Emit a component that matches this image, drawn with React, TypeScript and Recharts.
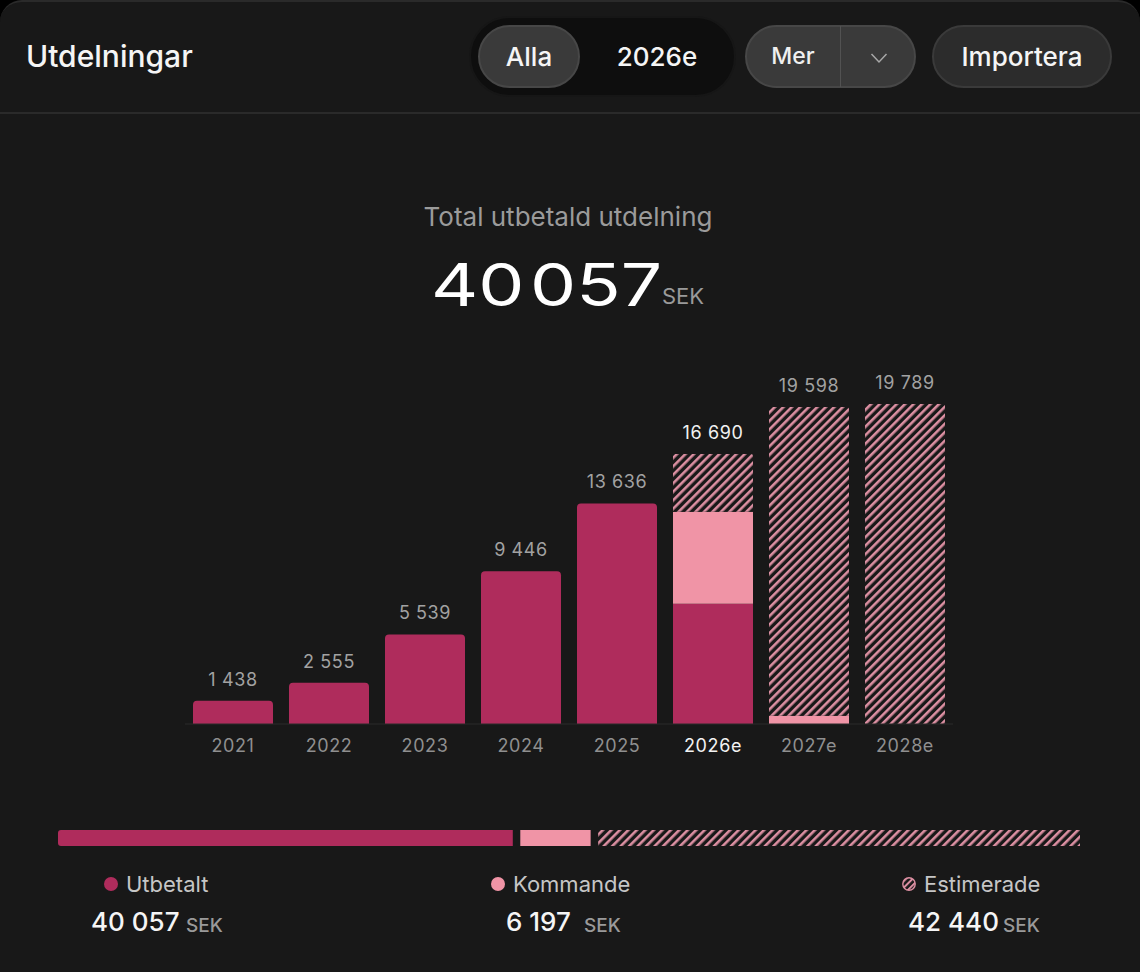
import React from "react";
import { Bar, BarChart, ComposedChart, Line, Rectangle, XAxis, YAxis } from "recharts";

const years = ["2021", "2022", "2023", "2024", "2025", "2026e", "2027e", "2028e"];
const totals = [1438, 2555, 5539, 9446, 13636, 16690, 19598, 19789];
const paid = [1438, 2555, 5539, 9446, 13636, 7443, 0, 0];
const upcoming = [0, 0, 0, 0, 0, 5689, 508, 0];
const estimated = [0, 0, 0, 0, 0, 3558, 19090, 19789];

const summaryLabels = ["Utbetalt", "Kommande", "Estimerade"];
const summaryValues = [40057, 6197, 42440];
const summaryGap = 660;

const DARK = "#AF2C5C";
const PINK = "#F094A6";
const STRIPE = "#DC8FA2";
const BG = "#181818";
const FONT = "Inter, sans-serif";

const fmt = (n: number) => String(n).replace(/\B(?=(\d{3})+$)/g, " ");

const rows = years.map((year, i) => ({
  year,
  total: totals[i],
  paid: paid[i],
  upcoming: upcoming[i],
  estimated: estimated[i],
}));

const summaryRow = [{
  name: "Total",
  paid: summaryValues[0],
  gapA: summaryGap,
  upcoming: summaryValues[1],
  gapB: summaryGap,
  estimated: summaryValues[2],
}];

function Hatch({ id }: { id: string }) {
  return (
    <defs>
      <pattern id={id} patternUnits="userSpaceOnUse" width="6" height="6" patternTransform="rotate(45)">
        <rect width="6" height="6" fill={BG} />
        <rect width="2.6" height="6" fill={STRIPE} />
      </pattern>
    </defs>
  );
}

function Txt({ x, y, size, color, children, weight = 400, anchor = "left", spacing = 0, style = {} }: any) {
  const shift = anchor === "center" ? "translate(-50%, -50%)" : "translateY(-50%)";
  return (
    <div style={{
      position: "absolute", left: x, top: y, transform: shift, fontSize: size, color, fontWeight: weight,
      letterSpacing: spacing, whiteSpace: "pre", lineHeight: 1, fontFamily: FONT, ...style,
    }}>
      {children}
    </div>
  );
}

function Pill({ x, y, w, h, bg, border }: any) {
  return (
    <div style={{
      position: "absolute", left: x, top: y, width: w, height: h, boxSizing: "border-box",
      borderRadius: h / 2, background: bg, border: `2px solid ${border}`,
    }} />
  );
}

function makeShape(key: "paid" | "upcoming" | "estimated") {
  return (props: any) => {
    const i = props.index;
    const onTop =
      key === "estimated" ||
      (key === "upcoming" && estimated[i] === 0) ||
      (key === "paid" && upcoming[i] === 0 && estimated[i] === 0);
    const r = onTop ? (key === "estimated" ? 2 : 4) : 0;
    return <Rectangle x={props.x} y={props.y} width={props.width} height={props.height} fill={props.fill} radius={[r, r, 0, 0]} />;
  };
}

function YearTick({ x, y, payload }: any) {
  const active = payload.value === "2026e";
  return (
    <text x={x} y={y + 20} textAnchor="middle" fontSize={18} letterSpacing={0.6} fontFamily={FONT} fill={active ? "#f2f2f2" : "#8f8f8f"}>
      {payload.value}
    </text>
  );
}

function TotalLabel({ x, y, index }: any) {
  const active = years[index] === "2026e";
  return (
    <text x={x} y={y - 15} textAnchor="middle" fontSize={18} letterSpacing={0.6} fontFamily={FONT} fill={active ? "#f2f2f2" : "#a2a2a2"}>
      {fmt(totals[index])}
    </text>
  );
}

function Summary({ i, dotX, labelX, valueX, unitX }: any) {
  return (
    <>
      <svg style={{ position: "absolute", left: dotX - 8, top: 876 }} width={16} height={16}>
        {i === 2 ? (
          <>
            <defs>
              <pattern id="hatch-dot" patternUnits="userSpaceOnUse" width="4.6" height="4.6" patternTransform="rotate(45)">
                <rect width="4.6" height="4.6" fill={BG} />
                <rect width="2" height="4.6" fill={STRIPE} />
              </pattern>
            </defs>
            <circle cx={8} cy={8} r={6.2} fill="url(#hatch-dot)" stroke={STRIPE} strokeWidth={1.4} />
          </>
        ) : (
          <circle cx={8} cy={8} r={7} fill={i === 0 ? DARK : PINK} />
        )}
      </svg>
      <Txt x={labelX} y={884} size={22} color="#c6c6c6">{summaryLabels[i]}</Txt>
      <Txt x={valueX} y={922} size={26} color="#f5f5f5" weight={500}>{fmt(summaryValues[i])}</Txt>
      <Txt x={unitX} y={925} size={19} color="#9a9a9a" weight={500}>SEK</Txt>
    </>
  );
}

export default function App() {
  return (
    <div style={{ position: "absolute", left: 0, top: 0, width: 1140, height: 972, overflow: "hidden", background: "#000" }}>
      <div style={{
        position: "absolute", left: 0, top: 0, width: 1140, height: 972, background: BG, boxSizing: "border-box",
        borderTop: "2px solid #2a2a2a", borderRadius: "22px 22px 0 0",
      }} />
      <div style={{ position: "absolute", left: 0, top: 112, width: 1140, height: 2, background: "#2a2a2a" }} />

      <Txt x={26} y={56} size={30} color="#f5f5f5" weight={500}>Utdelningar</Txt>
      <Pill x={469} y={16} w={267} h={81} bg="#0e0e0e" border="#161616" />
      <Pill x={478} y={25} w={102} h={63} bg="#3a3a3a" border="#474747" />
      <Txt x={529} y={57} size={26} color="#f5f5f5" weight={500} anchor="center">Alla</Txt>
      <Txt x={657} y={57} size={26} color="#f5f5f5" weight={500} anchor="center">2026e</Txt>
      <Pill x={745} y={25} w={171} h={63} bg="#3a3a3a" border="#474747" />
      <div style={{ position: "absolute", left: 840, top: 26, width: 1, height: 61, background: "#525252" }} />
      <Txt x={793} y={56} size={23} color="#f0f0f0" weight={500} anchor="center">Mer</Txt>
      <svg style={{ position: "absolute", left: 870, top: 52 }} width={18} height={12}>
        <path d="M1.5 2 L9 10 L16.5 2" fill="none" stroke="#a8a8a8" strokeWidth={1.5} />
      </svg>
      <Pill x={932} y={25} w={180} h={63} bg="#2c2c2c" border="#3a3a3a" />
      <Txt x={1022} y={57} size={26} color="#f5f5f5" weight={500} anchor="center">Importera</Txt>

      <Txt x={568} y={217} size={26} color="#9b9b9b" anchor="center">Total utbetald utdelning</Txt>
      <Txt x={431} y={284} size={59} color="#ffffff" style={{ transform: "translateY(-50%) scaleX(1.24)", transformOrigin: "left center", wordSpacing: -12 }}>40 057</Txt>
      <Txt x={662} y={296} size={22} color="#9a9a9a">SEK</Txt>

      <div style={{ position: "absolute", left: 0, top: 340 }}>
        <ComposedChart
          width={1140}
          height={420}
          data={rows}
          margin={{ top: 64, right: 187, bottom: 0, left: 185 }}
          barCategoryGap={8}
        >
          <Hatch id="hatch-main" />
          <XAxis dataKey="year" interval={0} height={36} axisLine={{ stroke: "#2b2b2b" }} tickLine={false} tick={<YearTick />} />
          <YAxis hide domain={[0, 19789]} />
          <Bar dataKey="paid" stackId="a" barSize={80} fill={DARK} shape={makeShape("paid")} isAnimationActive={false} />
          <Bar dataKey="upcoming" stackId="a" barSize={80} fill={PINK} shape={makeShape("upcoming")} isAnimationActive={false} />
          <Bar dataKey="estimated" stackId="a" barSize={80} fill="url(#hatch-main)" shape={makeShape("estimated")} isAnimationActive={false} />
          <Line dataKey="total" stroke="none" dot={false} activeDot={false} label={<TotalLabel />} isAnimationActive={false} />
        </ComposedChart>
      </div>

      <div style={{ position: "absolute", left: 58, top: 830 }}>
        <BarChart
          width={1022}
          height={16}
          layout="vertical"
          data={summaryRow}
          margin={{ top: 0, right: 0, bottom: 0, left: 0 }}
          barCategoryGap={0}
        >
          <Hatch id="hatch-bar" />
          <XAxis type="number" hide domain={[0, 90014]} />
          <YAxis type="category" dataKey="name" hide />
          <Bar dataKey="paid" stackId="s" fill={DARK} radius={[3, 0, 0, 3]} isAnimationActive={false} />
          <Bar dataKey="gapA" stackId="s" fill="transparent" isAnimationActive={false} />
          <Bar dataKey="upcoming" stackId="s" fill={PINK} isAnimationActive={false} />
          <Bar dataKey="gapB" stackId="s" fill="transparent" isAnimationActive={false} />
          <Bar dataKey="estimated" stackId="s" fill="url(#hatch-bar)" isAnimationActive={false} />
        </BarChart>
      </div>

      <Summary i={0} dotX={111} labelX={126} valueX={91} unitX={186} />
      <Summary i={1} dotX={498} labelX={513} valueX={506} unitX={584} />
      <Summary i={2} dotX={909} labelX={924} valueX={908} unitX={1003} />
    </div>
  );
}
